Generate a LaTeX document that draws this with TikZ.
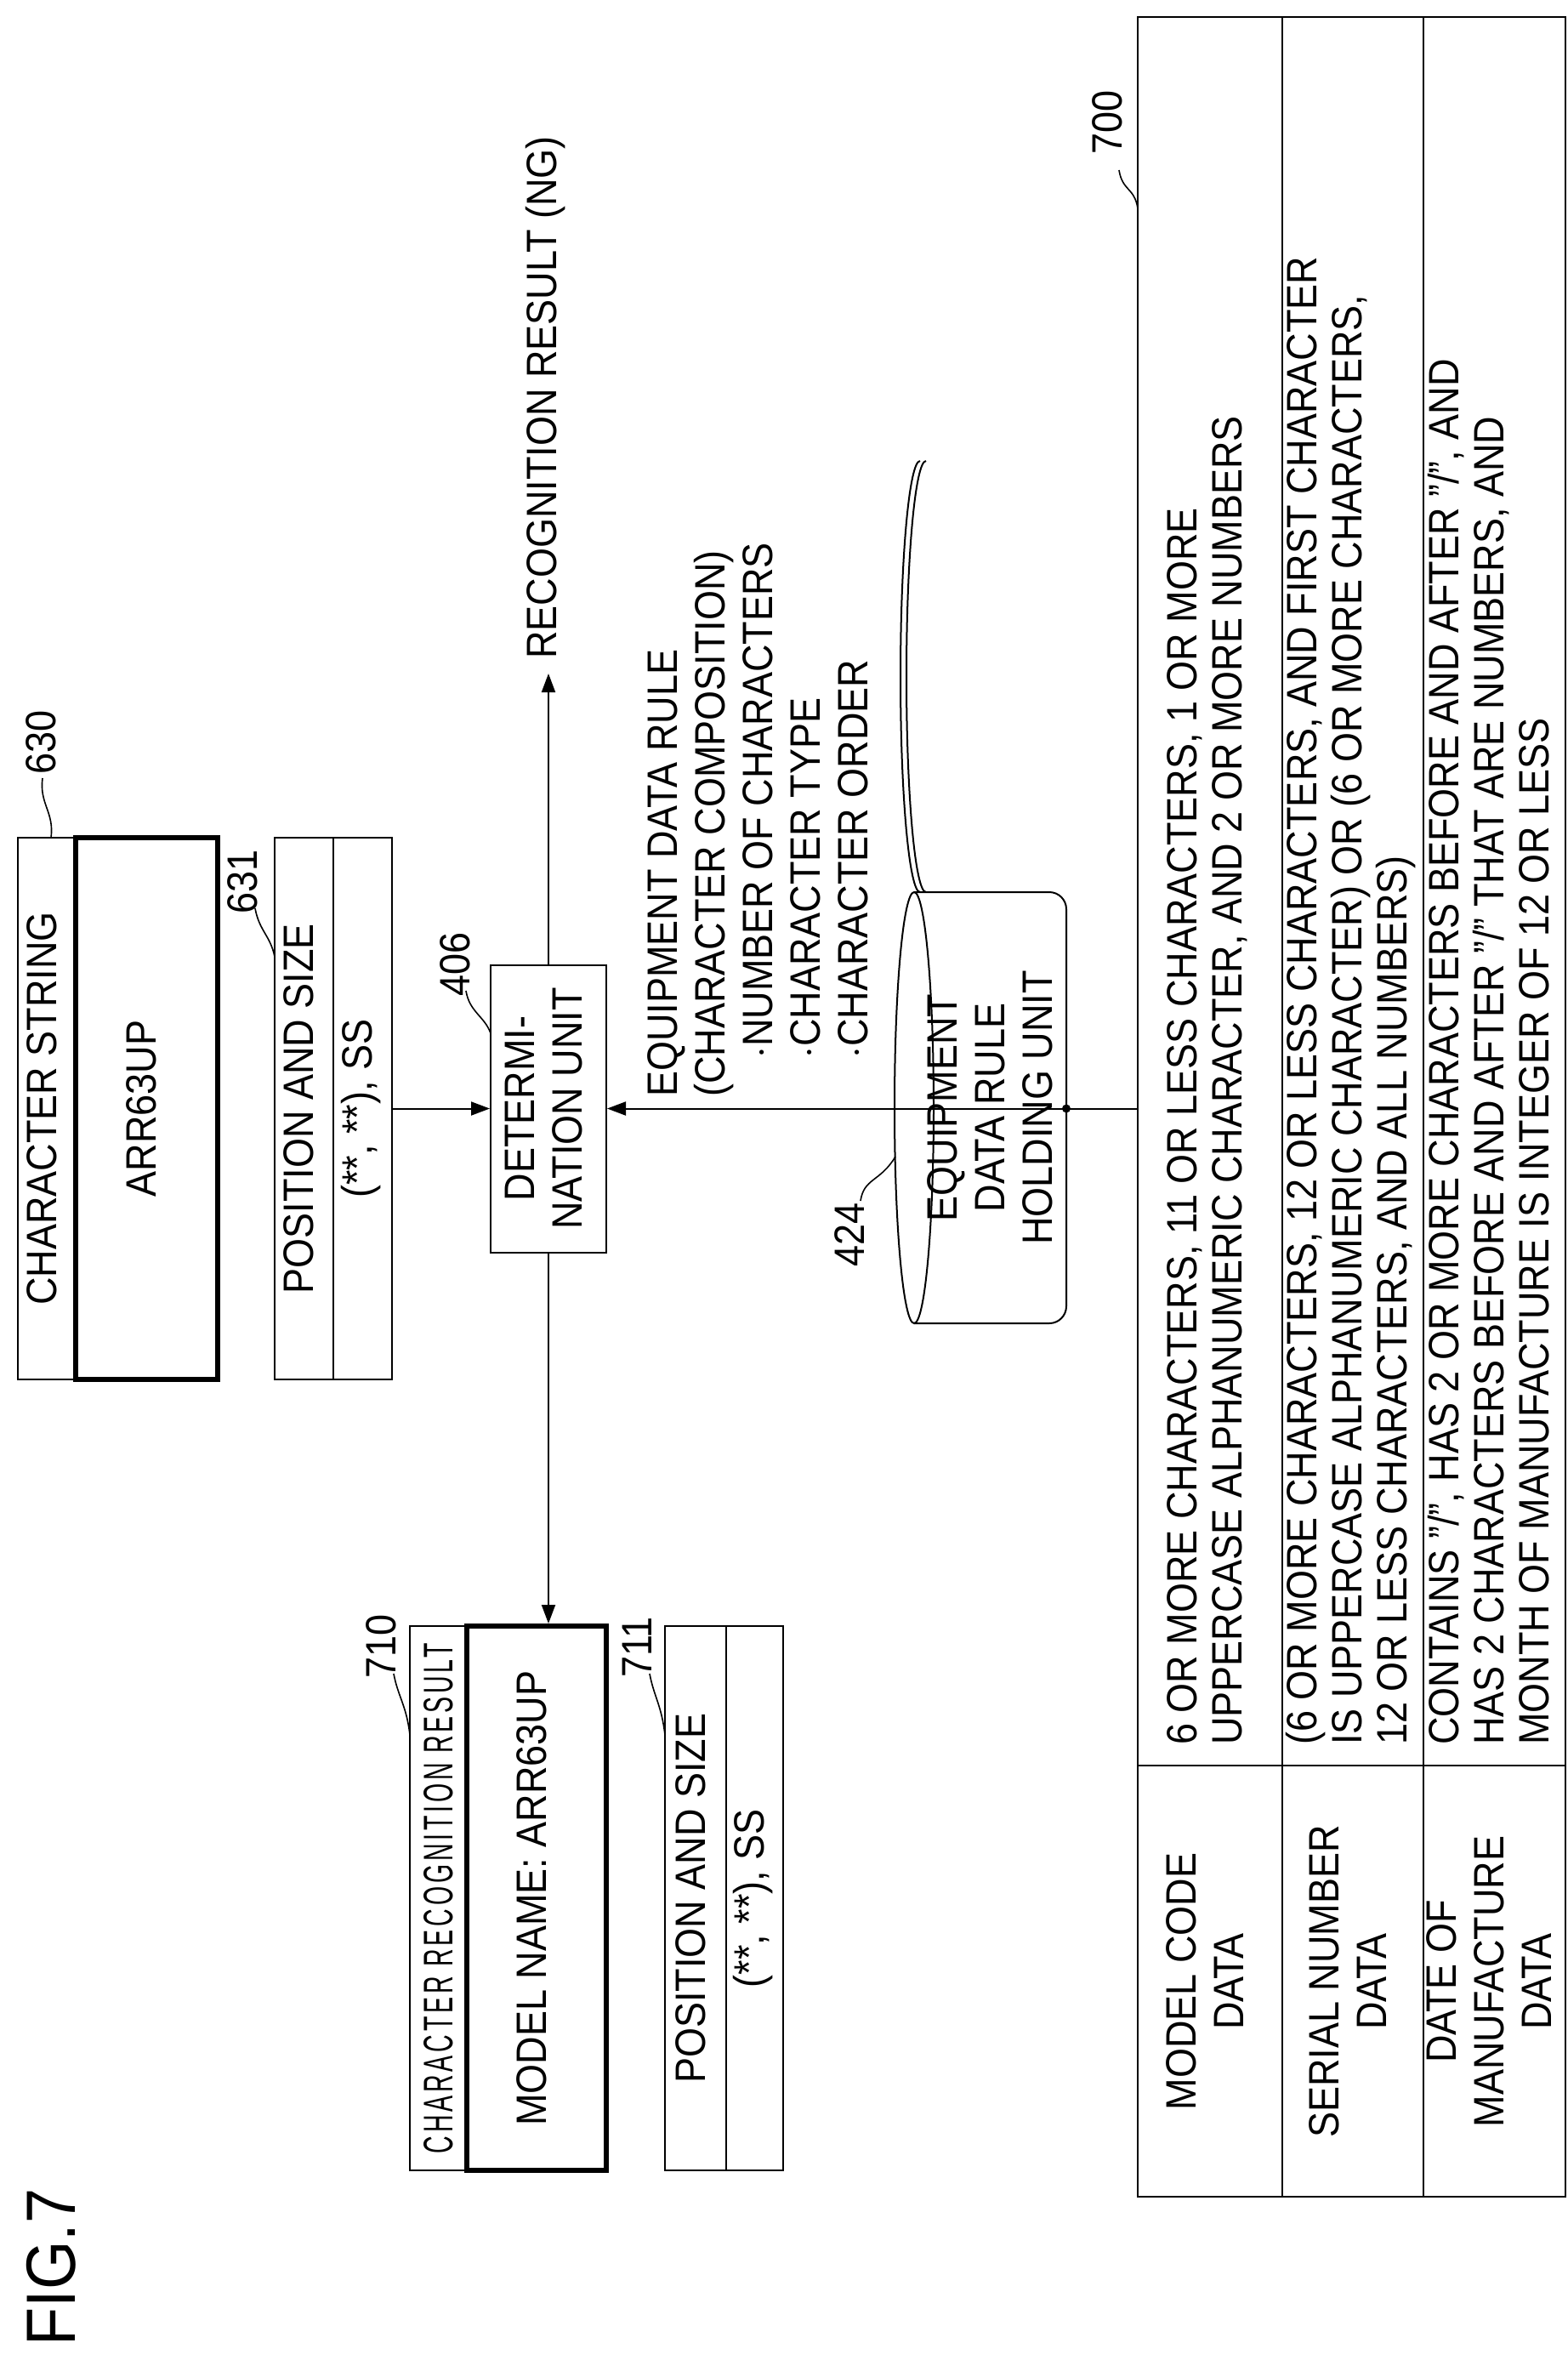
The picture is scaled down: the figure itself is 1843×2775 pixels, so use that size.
\documentclass[tikz,border=0pt]{standalone}
\usepackage{fontspec}
\setmainfont{Liberation Sans}[FakeStretch=0.9]
\usepackage{graphicx}
\usetikzlibrary{arrows.meta}
\begin{document}
\begin{tikzpicture}[x=0.5pt,y=-0.5pt,
  every node/.style={font=\fontsize{25pt}{28pt}\selectfont, inner sep=0pt},
  bx/.style={draw, line width=1pt, minimum height=318.5pt},
  thk/.style={draw, line width=3pt, minimum height=318.5pt},
  arr/.style={line width=1pt, -{Triangle[length=11pt,width=8pt]}},
  ln/.style={line width=1pt},
  lead/.style={line width=0.8pt}]
\useasboundingbox (0,0) rectangle (1843,2775);
\newcommand{\rt}[2][c]{\rotatebox{90}{\begin{tabular}{@{}#1@{}}#2\end{tabular}}}

% FIG.7
\node (fig) at (60,2666) {\rotatebox{90}{\fontsize{41pt}{41pt}\selectfont FIG.7}};

% 630
\node[bx, minimum width=34pt] (h630) at (55,1303.5) {\rt{CHARACTER STRING}};
\node[thk, minimum width=83.5pt] (b630) at (172.5,1303.5) {\rt{ARR63UP}};
\node (l630) at (54,873) {\rt{630}};
\draw[lead] (50,915) .. controls (46,945) and (64,955) .. (60,985);

% 631
\node[bx, minimum width=34.5pt] (h631) at (357.5,1303.5) {\rt{POSITION AND SIZE}};
\node[bx, minimum width=34.5pt] (c631) at (426.5,1303.5) {\rt{(**, **), SS}};
\node (l631) at (291,1037) {\rt{631}};
\draw[lead] (300,1068) .. controls (305,1095) and (318,1100) .. (323,1125);

% determination unit
\node[draw, line width=1pt, minimum width=68pt, minimum height=169pt] (det) at (645,1303.5)
  {\rt{DETERMI-\\NATION UNIT}};
\node (l406) at (541,1134) {\rt{406}};
\draw[lead] (548,1165) .. controls (552,1190) and (570,1195) .. (577,1215);

\draw[arr] (c631.east) -- (det.west);
\coordinate (ngtip) at (645,792);
\draw[arr] (det.north) -- (ngtip);
\node[anchor=south] (ng) at (643,775) {\rt{RECOGNITION RESULT (NG)}};

% equipment data rule text
\node[anchor=south west] (rule) at (757,1290) {\rt[l]{EQUIPMENT DATA RULE\\(CHARACTER COMPOSITION)\\\hspace{0.9em}$\cdot$NUMBER OF CHARACTERS\\\hspace{0.9em}$\cdot$CHARACTER TYPE\\\hspace{0.9em}$\cdot$CHARACTER ORDER}};

% cylinder 424
\draw[ln, rounded corners=10pt] (1075,1049) -- (1254,1049) -- (1254,1556) -- (1075,1556);
\draw[ln, fill=white] (1075,1302.5) ellipse [x radius=23, y radius=253.5];
\draw[ln] (1082,1049) arc[start angle=90, end angle=270, x radius=23, y radius=253.5];
\draw[ln] (1089,1049) arc[start angle=90, end angle=270, x radius=23, y radius=253.5];
\node (cylt) at (1170,1302.5) {\rt{EQUIPMENT\\DATA RULE\\HOLDING UNIT}};
\node (l424) at (1005,1452) {\rt{424}};
\draw[lead] (1012,1412) .. controls (1016,1385) and (1035,1390) .. (1053,1360);
\coordinate (dbr) at (1254,1303.5);
\coordinate (tblL) at (1338,1303.5);
\draw[arr] (tblL) -- (det.east);
\fill (dbr) circle (5);

% 710
\node[draw, line width=1pt, minimum width=33.5pt, minimum height=320pt] (h710) at (515.5,2232)
  {\rotatebox{90}{\resizebox{300pt}{17pt}{\addfontfeature{LetterSpace=12}CHARACTER RECOGNITION RESULT}}};
\node[draw, line width=3pt, minimum width=82pt, minimum height=320pt] (b710) at (631,2232) {\rt{MODEL NAME: ARR63UP}};
\node (l710) at (454,1936) {\rt{710}};
\draw[lead] (463,1968) .. controls (468,1995) and (478,2005) .. (482,2040);
\draw[arr] (det.south) -- (det.south |- b710.north);

% 711
\node[draw, line width=1pt, minimum width=36pt, minimum height=320pt] (h711) at (818,2232) {\rt{POSITION AND SIZE}};
\node[draw, line width=1pt, minimum width=33.5pt, minimum height=320pt] (c711) at (887.5,2232) {\rt{(**, **), SS}};
\node (l711) at (755,1937) {\rt{711}};
\draw[lead] (764,1968) .. controls (769,1995) and (778,2005) .. (782,2040);

% table 700
\draw[ln] (1338,20) rectangle (1841,2583);
\draw[ln] (1508,20) -- (1508,2583);
\draw[ln] (1674,20) -- (1674,2583);
\draw[ln] (1338,2076) -- (1841,2076);
\node (l700) at (1308,144) {\rt{700}};
\draw[lead] (1316,200) .. controls (1320,225) and (1334,220) .. (1338,245);
\node (r1h) at (1423,2330) {\rt{MODEL CODE\\DATA}};
\node (r2h) at (1591,2330) {\rt{SERIAL NUMBER\\DATA}};
\node (r3h) at (1757.5,2330) {\rt{DATE OF\\MANUFACTURE\\DATA}};
\node[anchor=south, font=\fontsize{25pt}{26.5pt}\selectfont] (r1) at (1423,2052) {\rt[l]{6 OR MORE CHARACTERS, 11 OR LESS CHARACTERS, 1 OR MORE\\UPPERCASE ALPHANUMERIC CHARACTER, AND 2 OR MORE NUMBERS}};
\node[anchor=south, font=\fontsize{25pt}{26.5pt}\selectfont] (r2) at (1591,2052) {\rt[l]{(6 OR MORE CHARACTERS, 12 OR LESS CHARACTERS, AND FIRST CHARACTER\\IS UPPERCASE ALPHANUMERIC CHARACTER) OR (6 OR MORE CHARACTERS,\\12 OR LESS CHARACTERS, AND ALL NUMBERS)}};
\node[anchor=south, font=\fontsize{25pt}{26.5pt}\selectfont] (r3) at (1757.5,2052) {\rt[l]{CONTAINS "/", HAS 2 OR MORE CHARACTERS BEFORE AND AFTER "/", AND\\HAS 2 CHARACTERS BEFORE AND AFTER "/" THAT ARE NUMBERS, AND\\MONTH OF MANUFACTURE IS INTEGER OF 12 OR LESS}};
\end{tikzpicture}
\end{document}
